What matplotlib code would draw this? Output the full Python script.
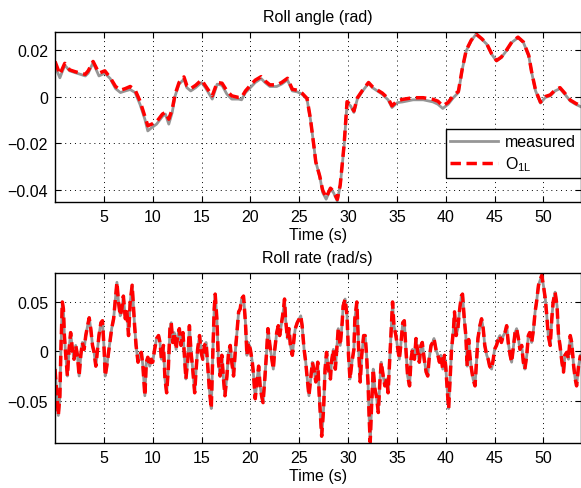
import matplotlib
matplotlib.use('Agg')
import matplotlib.pyplot as plt

plt.rcParams['font.family'] = ['Liberation Sans', 'DejaVu Sans']
plt.rcParams['mathtext.default'] = 'regular'
plt.rcParams['font.size'] = 11.5

# roll angle (rad)
t_angle = [0.0, 0.5, 1.0, 1.5, 2.0, 2.6, 3.1, 3.4, 3.9, 4.5, 5.1, 5.65, 6.2, 6.7, 7.2,
           7.7, 8.2, 8.7, 9.2, 9.5, 9.9, 10.4, 11.0, 11.3, 11.65, 12.0, 12.3, 12.7, 13.2,
           13.5, 13.9, 14.4, 15.0, 15.4, 16.1, 16.6, 17.1, 17.6, 18.1, 18.8, 19.1, 19.5,
           20.0, 20.5, 21.1, 21.5, 22.0, 22.7, 23.2, 23.8, 24.3, 24.8, 25.3, 25.8, 26.15,
           26.5, 26.7, 27.1, 27.4, 27.76, 28.2, 28.5, 28.9, 29.2, 29.6, 29.9, 30.26, 30.6,
           30.95, 31.5, 32.1, 32.5, 33.0, 33.5, 34.1, 34.5, 35.05, 35.6, 36.66, 37.7, 38.7,
           39.2, 39.7, 40.25, 40.8, 41.3, 41.7, 42.1, 42.6, 43.1, 43.7, 44.2, 44.7, 45.2,
           45.7, 46.2, 46.76, 47.4, 47.96, 48.5, 48.8, 49.2, 49.7, 50.2, 50.7, 51.2, 51.7,
           52.2, 52.75, 53.3, 53.8]
roll_meas = [0.013, 0.008, 0.0134, 0.011, 0.0103, 0.0095, 0.0088, 0.010, 0.0145, 0.0088,
             0.010, 0.0077, 0.0034, 0.0017, 0.0024, 0.003, 0.0017, -0.0033, -0.0097, -0.0147,
             -0.0133, -0.0118, -0.0085, -0.0075, -0.0118, -0.0068, 0.0003, 0.0053, 0.0074,
             0.0038, 0.0024, 0.0038, 0.006, 0.0038, -0.0011, 0.0053, 0.0048, 0.001, -0.0011,
             -0.0011, -0.0014, 0.0017, 0.0038, 0.006, 0.0077, 0.006, 0.0043, 0.0043, 0.0053,
             0.0071, 0.0024, 0.002, 0.001, -0.0011, -0.0097, -0.021, -0.028, -0.034, -0.041,
             -0.0439, -0.0396, -0.041, -0.0446, -0.0382, -0.021, -0.0026, -0.004, -0.0068,
             -0.0011, 0.0024, 0.0057, 0.0038, 0.0024, 0.001, -0.0014, -0.0047, -0.0026,
             -0.0023, -0.0014, -0.0014, -0.0023, -0.0033, -0.0051, -0.0033, -0.0004, 0.0017,
             0.0117, 0.0195, 0.0238, 0.0266, 0.0245, 0.0224, 0.0181, 0.0152, 0.0167, 0.0195,
             0.0231, 0.0252, 0.0231, 0.0174, 0.0103, 0.0024, -0.0028, -0.0004, 0.0003, 0.0024,
             0.0034, 0.001, -0.0019, -0.0033, -0.0043]
roll_o1l = [0.015, 0.0095, 0.0142, 0.0114, 0.0107, 0.010, 0.0095, 0.011, 0.015, 0.010,
            0.011, 0.0081, 0.0043, 0.0027, 0.0034, 0.0043, 0.0028, -0.0019, -0.0085, -0.0125,
            -0.0118, -0.0108, -0.0075, -0.0068, -0.0097, -0.0054, 0.001, 0.006, 0.0084,
            0.0046, 0.0034, 0.0048, 0.0071, 0.0046, 0.0003, 0.006, 0.0057, 0.0024, 0.0003,
            -0.0004, -0.0004, 0.0024, 0.0048, 0.007, 0.0085, 0.0067, 0.005, 0.005, 0.006,
            0.0078, 0.0031, 0.0027, 0.0014, -0.0008, -0.0095, -0.021, -0.028, -0.034, -0.040,
            -0.0432, -0.0392, -0.0405, -0.0440, -0.0378, -0.0205, -0.0022, -0.0035, -0.0062,
            -0.0006, 0.0028, 0.006, 0.0042, 0.0028, 0.0015, -0.0008, -0.0040, -0.0018,
            -0.0012, -0.0005, -0.0005, -0.0012, -0.002, -0.004, -0.0025, 0.0005, 0.0022,
            0.012, 0.0198, 0.024, 0.0268, 0.0247, 0.0226, 0.0183, 0.0154, 0.0169, 0.0197,
            0.0233, 0.0254, 0.0233, 0.0176, 0.0105, 0.0027, -0.0024, 0.0, 0.0007, 0.0028,
            0.0038, 0.0014, -0.0015, -0.0029, -0.0039]

# roll rate (rad/s)
t_rate = [0.0, 0.17, 0.34, 0.5, 0.6, 0.75, 0.86, 0.96, 1.1, 1.27, 1.44, 1.6, 1.78, 1.95,
          2.12, 2.3, 2.47, 2.64, 2.8, 2.98, 3.15, 3.3, 3.5, 3.66, 3.84, 4.0, 4.18, 4.35,
          4.5, 4.7, 4.86, 5.03, 5.14, 5.3, 5.48, 5.65, 5.8, 6.0, 6.16, 6.34, 6.5, 6.68,
          6.85, 7.0, 7.2, 7.36, 7.53, 7.7, 7.9, 8.0, 8.15, 8.3, 8.5, 8.66, 8.84, 9.0,
          9.2, 9.35, 9.5, 9.7, 9.86, 10.0, 10.2, 10.4, 10.6, 10.75, 10.9, 11.1, 11.26,
          11.43, 11.6, 11.77, 11.9, 12.05, 12.2, 12.4, 12.56, 12.73, 12.9, 13.1, 13.25,
          13.4, 13.6, 13.76, 13.93, 14.1, 14.3, 14.45, 14.6, 14.8, 14.96, 15.13, 15.3,
          15.47, 15.64, 15.8, 16.0, 16.16, 16.3, 16.4, 16.57, 16.74, 16.9, 17.08, 17.25,
          17.4, 17.6, 17.77, 17.94, 18.1, 18.28, 18.45, 18.6, 18.8, 18.96, 19.1, 19.3,
          19.5, 19.65, 19.8, 20.0, 20.2, 20.3, 20.5, 20.7, 20.85, 21.0, 21.15, 21.3,
          21.5, 21.66, 21.8, 22.0, 22.2, 22.35, 22.5, 22.7, 22.86, 23.0, 23.2, 23.4,
          23.5, 23.6, 23.8, 23.96, 24.1, 24.3, 24.5, 24.6, 24.8, 25.0, 25.16, 25.3,
          25.5, 25.67, 25.8, 26.0, 26.2, 26.35, 26.5, 26.7, 26.9, 27.04, 27.2, 27.3,
          27.5, 27.65, 27.8, 28.0, 28.2, 28.3, 28.5, 28.7, 28.85, 29.0, 29.2, 29.4,
          29.5, 29.7, 29.9, 30.05, 30.2, 30.4, 30.6, 30.7, 30.9, 31.1, 31.25, 31.4,
          31.6, 31.75, 31.9, 32.06, 32.17, 32.27, 32.4, 32.58, 32.75, 32.9, 33.1, 33.26,
          33.4, 33.6, 33.77, 33.95, 34.1, 34.3, 34.46, 34.56, 34.7, 34.9, 35.1, 35.25,
          35.4, 35.6, 35.76, 35.9, 36.1, 36.3, 36.45, 36.6, 36.8, 36.96, 37.1, 37.3,
          37.47, 37.6, 37.8, 38.0, 38.16, 38.3, 38.5, 38.67, 38.8, 39.0, 39.2, 39.36,
          39.5, 39.7, 39.87, 40.0, 40.2, 40.3, 40.45, 40.6, 40.8, 40.9, 41.07, 41.24,
          41.4, 41.6, 41.72, 41.9, 42.06, 42.2, 42.35, 42.47, 42.64, 42.8, 43.0, 43.15,
          43.3, 43.5, 43.67, 43.84, 44.0, 44.2, 44.35, 44.5, 44.7, 44.87, 45.0, 45.2,
          45.4, 45.55, 45.7, 45.9, 46.07, 46.24, 46.4, 46.6, 46.75, 46.9, 47.1, 47.26,
          47.44, 47.6, 47.78, 47.95, 48.1, 48.3, 48.46, 48.6, 48.8, 49.0, 49.15, 49.3,
          49.5, 49.66, 49.83, 50.0, 50.2, 50.35, 50.5, 50.7, 50.86, 51.0, 51.2, 51.4,
          51.55, 51.7, 51.9, 52.06, 52.2, 52.4, 52.57, 52.75, 52.9, 53.1, 53.26, 53.4,
          53.6, 53.8]
rate_meas = [-0.018, -0.042, -0.065, -0.045, 0.0, 0.05, 0.043, 0.016, -0.004, -0.025, 0.002,
             0.019, 0.002, -0.008, 0.006, -0.004, -0.025, -0.004, 0.009, 0.002, 0.016, 0.024,
             0.034, 0.023, 0.006, -0.001, -0.015, 0.002, 0.016, 0.029, 0.031, 0.002, -0.025,
             -0.015, -0.001, 0.013, 0.023, 0.033, 0.05, 0.07, 0.05, 0.036, 0.043, 0.056,
             0.033, 0.04, 0.016, 0.05, 0.067, 0.05, 0.026, 0.006, -0.011, -0.004, -0.001,
             -0.015, -0.045, -0.011, -0.006, -0.015, -0.008, -0.011, 0.002, 0.013, 0.016,
             0.009, -0.008, 0.006, -0.028, -0.042, -0.018, 0.023, 0.029, 0.009, 0.019, 0.002,
             0.016, 0.023, 0.006, 0.019, -0.004, -0.028, -0.008, 0.026, -0.001, -0.018,
             -0.042, -0.018, 0.002, 0.016, -0.001, -0.008, 0.006, 0.009, -0.015, -0.038,
             -0.058, -0.001, 0.043, 0.058, 0.033, -0.011, -0.025, -0.004, -0.028, -0.045,
             -0.025, -0.001, 0.006, -0.011, -0.025, -0.001, 0.016, 0.04, 0.043, 0.053, 0.056,
             0.029, -0.004, 0.009, 0.002, -0.011, -0.021, -0.048, -0.028, -0.015, -0.035,
             -0.045, -0.052, -0.025, -0.001, 0.023, 0.006, -0.008, -0.018, 0.002, 0.019,
             0.026, 0.016, 0.029, 0.043, 0.053, 0.033, 0.013, 0.023, 0.006, -0.004, 0.016,
             0.023, 0.029, 0.033, 0.036, 0.026, 0.002, -0.011, -0.025, -0.045, -0.025,
             -0.011, -0.018, -0.031, -0.011, -0.042, -0.069, -0.086, -0.058, -0.018, -0.001,
             -0.018, -0.028, -0.011, 0.002, -0.018, 0.002, 0.023, 0.006, 0.029, 0.046, 0.053,
             0.036, -0.004, -0.028, -0.011, 0.002, 0.033, 0.05, -0.001, -0.031, -0.004,
             0.016, 0.016, -0.004, -0.035, -0.069, -0.092, -0.058, -0.018, -0.038, -0.045,
             -0.062, -0.031, -0.011, -0.025, -0.035, -0.028, -0.042, -0.001, 0.033, 0.05,
             0.026, 0.016, 0.002, -0.008, 0.006, 0.029, 0.031, 0.006, -0.025, -0.035, -0.008,
             0.002, -0.008, 0.013, 0.002, -0.011, 0.006, 0.009, -0.008, -0.021, -0.025,
             -0.008, 0.006, 0.009, 0.013, 0.002, -0.004, -0.011, -0.004, -0.018, -0.004,
             -0.015, -0.045, -0.058, -0.028, 0.002, 0.023, 0.04, 0.016, 0.023, 0.04, 0.056,
             0.058, 0.033, 0.016, -0.015, 0.012, -0.004, -0.018, -0.028, -0.035, -0.011,
             0.013, 0.026, 0.033, 0.023, 0.006, -0.004, -0.008, -0.015, -0.018, -0.008,
             0.002, 0.006, 0.013, 0.016, 0.009, 0.016, 0.019, 0.026, 0.009, -0.004, -0.011,
             0.002, 0.019, 0.023, 0.013, 0.002, 0.006, -0.011, -0.018, -0.004, 0.016, 0.019,
             0.009, 0.023, 0.04, 0.05, 0.067, 0.072, 0.077, 0.067, 0.053, 0.036, 0.016,
             0.006, 0.033, 0.05, 0.06, 0.046, 0.016, 0.006, -0.011, -0.021, -0.004, -0.001,
             -0.008, 0.016, 0.009, -0.015, -0.028, -0.035, -0.015, -0.004]
# the O1L estimate lies on top of the measurement at this scale
rate_o1l = rate_meas

xticks = [5, 10, 15, 20, 25, 30, 35, 40, 45, 50]
angle_ticks = [-0.04, -0.02, 0, 0.02]
angle_labels = ['\u22120.04', '\u22120.02', '0', '0.02']
rate_ticks = [-0.05, 0, 0.05]
rate_labels = ['\u22120.05', '0', '0.05']

gray = '#969696'
red = '#ff0000'


def style_axes(ax):
    ax.set_xlim(0, 53.8)
    ax.set_xticks(xticks)
    ax.tick_params(direction='in', length=4, width=0.8, top=True, right=True,
                   labelsize=11.5, pad=5)
    ax.grid(True, color='black', linestyle=(0, (1, 4)), linewidth=0.7)
    for s in ax.spines.values():
        s.set_linewidth(1.0)
    ax.set_xlabel('Time (s)', labelpad=2)


fig = plt.figure(figsize=(5.81, 4.89), dpi=100)
ax1 = fig.add_axes([55 / 581, 1 - 203 / 489, 525.5 / 581, 170 / 489])
ax2 = fig.add_axes([55 / 581, 1 - 444 / 489, 525.5 / 581, 169.7 / 489])

ax1.plot(t_angle, roll_meas, color=gray, lw=2.0, label='measured')
ax1.plot(t_angle, roll_o1l, color=red, lw=2.5, dashes=(3, 1.6), label='O$_{1L}$')
ax1.set_ylim(-0.0451, 0.0276)
ax1.set_yticks(angle_ticks)
ax1.set_yticklabels(angle_labels)
ax1.set_title('Roll angle (rad)', fontsize=11.5, pad=8)
style_axes(ax1)
leg = ax1.legend(loc='lower right', bbox_to_anchor=(1.0, 0.14), fancybox=False,
                 framealpha=1, edgecolor='black', handlelength=3.0, fontsize=11.5,
                 borderpad=0.3, labelspacing=0.35, handletextpad=0.4,
                 borderaxespad=0)
leg.get_frame().set_linewidth(1.0)

ax2.plot(t_rate, rate_meas, color=gray, lw=2.0)
ax2.plot(t_rate, rate_o1l, color=red, lw=2.5, dashes=(3, 1.6))
ax2.set_ylim(-0.0929, 0.0791)
ax2.set_yticks(rate_ticks)
ax2.set_yticklabels(rate_labels)
ax2.set_title('Roll rate (rad/s)', fontsize=11.5, pad=8)
style_axes(ax2)

fig.savefig('out.png', dpi=100)
